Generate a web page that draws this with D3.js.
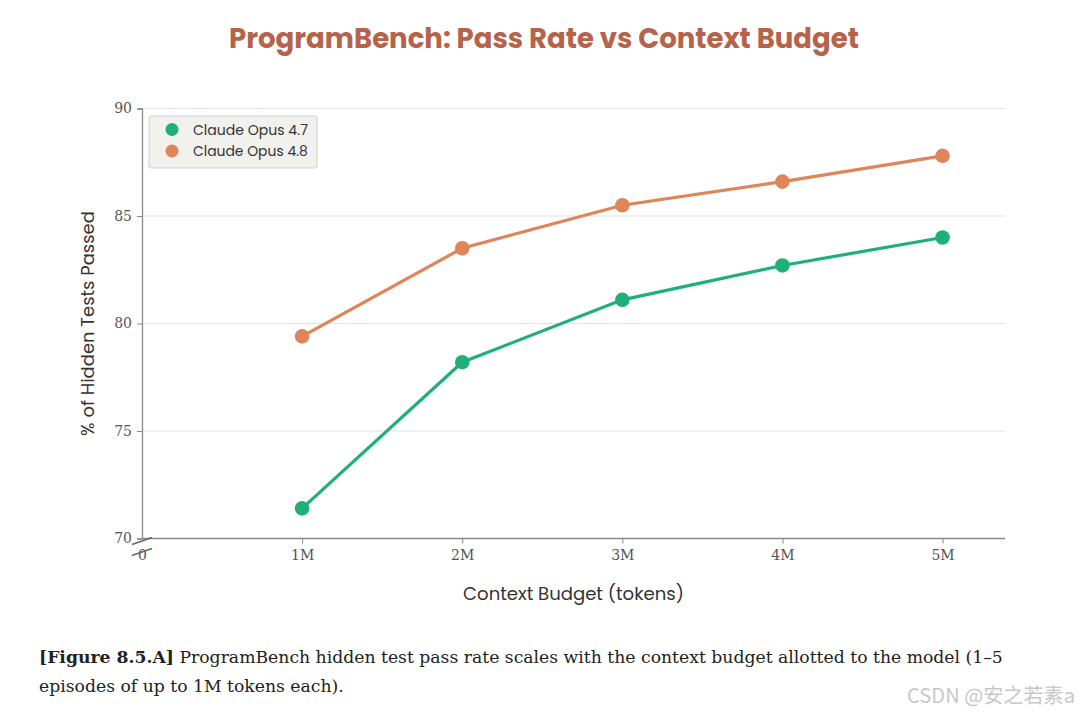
<!DOCTYPE html>
<html><head><meta charset="utf-8">
<script src="https://cdn.jsdelivr.net/npm/d3@7"></script>
<style>
html,body{margin:0;padding:0;background:#fff;}
svg{display:block;}
</style></head>
<body>
<svg id="chart" width="1080" height="713"></svg>
<script>
const budgets = [1, 2, 3, 4, 5];           // millions of tokens
const xTickLabels = ["0", "1M", "2M", "3M", "4M", "5M"];
const yTicks = [70, 75, 80, 85, 90];
const seriesNames = ["Claude Opus 4.7", "Claude Opus 4.8"];
const opus47 = [71.4, 78.2, 81.1, 82.7, 84.0];
const opus48 = [79.4, 83.5, 85.5, 86.6, 87.8];
const seriesColors = ["#1fb07a", "#e0845a"];

(function () {
const svg = d3.select("#chart");
const pL = 142, pR = 1005, pT = 108.5, pB = 538.5;

const x = d3.scaleLinear().domain([0, 5.39]).range([pL, pR]);
const y = d3.scaleLinear().domain([70, 90]).range([pB, pT]);

const sans = "Poppins, 'Open Sans', 'Noto Sans', sans-serif";
const serif = "'DejaVu Serif', 'Liberation Serif', serif";

function fitWidth(sel, target) {
  let w = 0;
  try { w = sel.node().getComputedTextLength(); } catch (e) { w = 0; }
  if (w > 0) sel.attr("font-size", parseFloat(sel.attr("font-size")) * target / w);
}

// Title
const title = svg.append("text").attr("x", 544).attr("y", 48).attr("text-anchor", "middle")
  .attr("font-family", sans).attr("font-weight", 700).attr("font-size", 26)
  .attr("fill", "#b5634a").text("ProgramBench: Pass Rate vs Context Budget");
fitWidth(title, 630);

// Gridlines
svg.append("g").selectAll("line").data(yTicks.filter(d => d > 70)).join("line")
  .attr("x1", pL).attr("x2", pR).attr("y1", d => y(d)).attr("y2", d => y(d))
  .attr("stroke", "#e3e3e3").attr("stroke-width", 1);

// Y axis
const yAxis = svg.append("g").attr("transform", `translate(${pL},0)`)
  .call(d3.axisLeft(y).tickValues(yTicks).tickSize(5).tickPadding(5));
yAxis.select(".domain").attr("stroke", "#8a8a8a").attr("stroke-width", 1.3);
yAxis.selectAll(".tick line").attr("stroke", "#8a8a8a");
yAxis.selectAll(".tick text").attr("font-family", serif).attr("font-size", 14).attr("fill", "#555");

// X axis
const xAxis = svg.append("g").attr("transform", `translate(0,${pB})`)
  .call(d3.axisBottom(x).tickValues([0].concat(budgets)).tickSize(5).tickPadding(7)
    .tickFormat((d, i) => xTickLabels[i]));
xAxis.select(".domain").attr("stroke", "#8a8a8a").attr("stroke-width", 1.3)
  .attr("d", `M${pL},0H${pR}`);
xAxis.selectAll(".tick line").attr("stroke", "#8a8a8a").attr("opacity", (d) => d === 0 ? 0 : 1);
xAxis.selectAll(".tick text").attr("font-family", serif).attr("font-size", 14).attr("fill", "#555");

// Axis break marks
const brk = svg.append("g").attr("stroke", "#666").attr("stroke-width", 1.4);
[0, 11].forEach(dy => {
  brk.append("line").attr("x1", x(0) - 10).attr("y1", pB + 6 + dy)
    .attr("x2", x(0) + 10).attr("y2", pB - 1 + dy);
});

// Axis labels
const xl = svg.append("text").attr("x", (pL + pR) / 2).attr("y", 600).attr("text-anchor", "middle")
  .attr("font-family", sans).attr("font-size", 17).attr("fill", "#333")
  .text("Context Budget (tokens)");
fitWidth(xl, 221);
const yl = svg.append("text").attr("transform", `translate(94,${(pT + pB) / 2}) rotate(-90)`)
  .attr("text-anchor", "middle").attr("font-family", sans).attr("font-size", 16.5).attr("fill", "#333")
  .text("% of Hidden Tests Passed");
fitWidth(yl, 225);

// Lines and markers
const line = d3.line().x((d, i) => x(budgets[i])).y(d => y(d));
[opus47, opus48].forEach((vals, si) => {
  svg.append("path").datum(vals).attr("d", line).attr("fill", "none")
    .attr("stroke", seriesColors[si]).attr("stroke-width", 3.2);
  svg.append("g").selectAll("circle").data(vals).join("circle")
    .attr("cx", (d, i) => x(budgets[i])).attr("cy", d => y(d)).attr("r", 7.3)
    .attr("fill", seriesColors[si]);
});

// Legend
const lg = svg.append("g");
lg.append("rect").attr("x", 149).attr("y", 116).attr("width", 168).attr("height", 52).attr("rx", 2)
  .attr("fill", "#f1f1ee").attr("stroke", "#cfcfcf");
seriesNames.forEach((n, i) => {
  lg.append("circle").attr("cx", 172).attr("cy", 129.5 + i * 21.5).attr("r", 6.5).attr("fill", seriesColors[i]);
  const t = lg.append("text").attr("x", 193).attr("y", 134.5 + i * 21.5)
    .attr("font-family", sans).attr("font-size", 13.5).attr("fill", "#333").text(n);
  fitWidth(t, 115);
});

// Caption
const cap = svg.append("text").attr("font-family", serif).attr("font-size", 17).attr("fill", "#222");
const l1 = cap.append("tspan").attr("x", 39).attr("y", 663);
l1.append("tspan").attr("font-weight", 700).text("[Figure 8.5.A]");
l1.append("tspan").text(" ProgramBench hidden test pass rate scales with the context budget allotted to the model (1\u20135");
cap.append("tspan").attr("x", 39).attr("y", 692).text("episodes of up to 1M tokens each).");
let w = 0;
try { w = l1.node().getComputedTextLength(); } catch (e) { w = 0; }
if (w > 0) cap.attr("font-size", 17 * 964 / w);

// Watermark
const wm = svg.append("text").attr("x", 1075).attr("y", 703).attr("text-anchor", "end")
  .attr("font-family", "'Noto Sans CJK SC', 'Noto Sans', sans-serif").attr("font-size", 18)
  .attr("fill", "#c8c8c8").text("CSDN @安之若素a");
fitWidth(wm, 168);
})();
</script>
</body></html>
